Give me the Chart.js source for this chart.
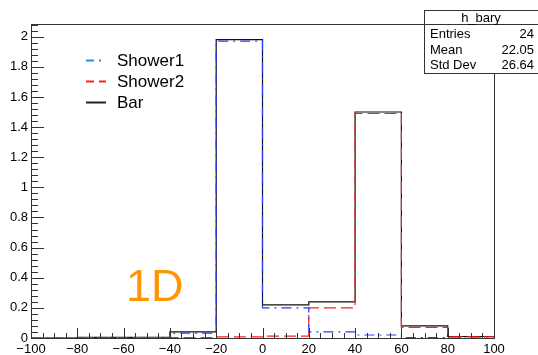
<!DOCTYPE html>
<html>
<head>
<meta charset="utf-8">
<title>h_bary</title>
<script src="https://cdn.jsdelivr.net/npm/chart.js@4/dist/chart.umd.min.js"></script>
<style>
  html, body { margin: 0; padding: 0; background: #fff; }
  #wrap { width: 538px; height: 355px; }
</style>
</head>
<body>
<div id="wrap"><canvas id="baryChart" width="538" height="355"></canvas></div>
<script>
// bin edges and contents of the three histograms
const binEdges = [-100, -80, -60, -40, -20, 0, 20, 40, 60, 80, 100];
const shower1 = [0, 0.002, 0.002, 0.032, 1.97, 0.20, 0.04, 0.02, 0.003, 0];
const shower2 = [0, 0.002, 0.002, 0.003, 0.008, 0.013, 0.20, 1.49, 0.07, 0.008];
const bar = [0, 0.004, 0.004, 0.04, 1.98, 0.22, 0.24, 1.50, 0.08, 0.01];

const xTicks = [-100, -80, -60, -40, -20, 0, 20, 40, 60, 80, 100];
const yTicks = [0, 0.2, 0.4, 0.6, 0.8, 1, 1.2, 1.4, 1.6, 1.8, 2];
const yMax = 2.084;

const statsTitle = 'h_bary';
const statsRows = [['Entries', '24'], ['Mean', '22.05'], ['Std Dev', '26.64']];

const FONT = '"Liberation Sans", Arial, Helvetica, sans-serif';

// one point per left bin edge plus the closing right edge
function toSteps(values) {
  const pts = values.map((v, i) => ({ x: binEdges[i], y: v }));
  pts.push({ x: binEdges[binEdges.length - 1], y: values[values.length - 1] });
  return pts;
}

const series = [
  { label: 'Shower1', data: shower1, color: 'rgb(40, 60, 255)', legendColor: 'rgb(50, 140, 225)', dash: [10, 5, 2, 5], legendDash: [8, 5, 2, 5, 2, 5] },
  { label: 'Shower2', data: shower2, color: 'rgb(255, 30, 30)', legendColor: 'rgb(255, 30, 30)', dash: [12, 5], legendDash: [8, 5] },
  { label: 'Bar', data: bar, color: '#111', legendColor: '#222', dash: [], legendDash: [] }
];

// ROOT style: inward ticks, frame, legend, stats box and the big label
const rootDecor = {
  id: 'rootDecor',
  afterDatasetsDraw(chart) {
    const { ctx, chartArea: a, scales } = chart;
    const xs = scales.x, ys = scales.y;
    ctx.save();
    ctx.strokeStyle = '#333';
    ctx.lineWidth = 1;

    // frame
    ctx.strokeRect(Math.round(a.left) + 0.5, Math.round(a.top) + 0.5,
      Math.round(a.right - a.left), Math.round(a.bottom - a.top));

    // x axis ticks: major every 20, minor every 5
    ctx.beginPath();
    for (let v = -100; v <= 100; v += 5) {
      const px = Math.round(xs.getPixelForValue(v)) + 0.5;
      const len = v % 20 === 0 ? 10 : 5;
      ctx.moveTo(px, a.bottom);
      ctx.lineTo(px, a.bottom - len);
    }
    // y axis ticks: major every 0.2, minor every 0.04
    for (let k = 0; k * 0.04 <= yMax; k++) {
      const py = Math.round(ys.getPixelForValue(k * 0.04)) + 0.5;
      const len = k % 5 === 0 ? 13 : 7;
      ctx.moveTo(a.left, py);
      ctx.lineTo(a.left + len, py);
    }
    ctx.stroke();

    // legend
    ctx.font = '17px ' + FONT;
    ctx.textBaseline = 'middle';
    ctx.textAlign = 'left';
    series.forEach((s, i) => {
      const y = 60 + i * 21;
      ctx.strokeStyle = s.legendColor;
      ctx.lineWidth = 2;
      ctx.setLineDash(s.legendDash);
      ctx.beginPath();
      ctx.moveTo(86, y + 0.5);
      ctx.lineTo(106, y + 0.5);
      ctx.stroke();
      ctx.setLineDash([]);
      ctx.fillStyle = '#000';
      ctx.fillText(s.label, 117, y + 1);
    });

    // "1D" label
    ctx.fillStyle = 'rgb(255, 150, 0)';
    ctx.font = '45px ' + FONT;
    ctx.textBaseline = 'alphabetic';
    ctx.fillText('1D', 126, 301);

    // stats box
    const bx = 424.5, by = 10.5, bw = 120, bh = 63;
    ctx.fillStyle = '#fff';
    ctx.fillRect(bx, by, bw, bh);
    ctx.strokeStyle = '#333';
    ctx.lineWidth = 1;
    ctx.strokeRect(bx, by, bw, bh);
    ctx.beginPath();
    ctx.moveTo(bx, 24.5);
    ctx.lineTo(bx + bw, 24.5);
    ctx.stroke();
    ctx.fillStyle = '#000';
    ctx.font = '13px ' + FONT;
    ctx.textBaseline = 'middle';
    ctx.textAlign = 'center';
    ctx.fillText(statsTitle, 481, 18);
    statsRows.forEach((r, i) => {
      const y = 34.5 + i * 15.7;
      ctx.textAlign = 'left';
      ctx.fillText(r[0], 430, y);
      ctx.textAlign = 'right';
      ctx.fillText(r[1], 534, y);
    });
    ctx.restore();
  }
};

new Chart(document.getElementById('baryChart'), {
  type: 'line',
  data: {
    datasets: series.map(s => ({
      label: s.label,
      data: toSteps(s.data),
      stepped: 'before',
      borderColor: s.color,
      borderWidth: 1.2,
      borderDash: s.dash,
      pointRadius: 0,
      fill: false,
      clip: 3
    }))
  },
  options: {
    responsive: false,
    animation: false,
    devicePixelRatio: 1,
    layout: { padding: { left: 0, right: 44, top: 24, bottom: 0 } },
    plugins: {
      legend: { display: false },
      tooltip: { enabled: false }
    },
    scales: {
      x: {
        type: 'linear',
        min: -100,
        max: 100,
        grid: { display: false, drawTicks: false },
        border: { display: false },
        afterBuildTicks: (s) => { s.ticks = xTicks.map(v => ({ value: v })); },
        afterFit: (s) => { s.height = 17; },
        ticks: {
          autoSkip: false,
          maxRotation: 0,
          padding: 4,
          color: '#000',
          font: { family: FONT, size: 13 },
          callback: (v) => (v < 0 ? '\u2212' + Math.abs(v) : String(v))
        }
      },
      y: {
        type: 'linear',
        min: 0,
        max: yMax,
        grid: { display: false, drawTicks: false },
        border: { display: false },
        afterBuildTicks: (s) => { s.ticks = yTicks.map(v => ({ value: v })); },
        afterFit: (s) => { s.width = 31; },
        ticks: {
          padding: 3,
          color: '#000',
          font: { family: FONT, size: 13 },
          callback: (v) => String(Math.round(v * 10) / 10)
        }
      }
    }
  },
  plugins: [rootDecor]
});
</script>
</body>
</html>
